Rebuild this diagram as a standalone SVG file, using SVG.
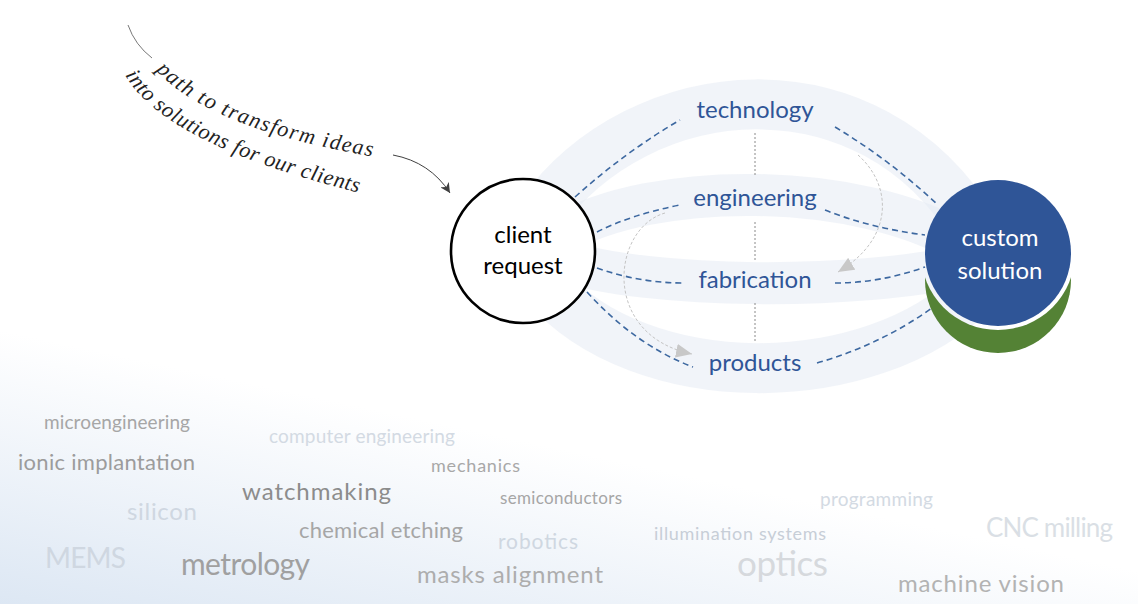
<svg xmlns="http://www.w3.org/2000/svg" width="1138" height="604" viewBox="0 0 1138 604">
<defs>
  <linearGradient id="bg" gradientUnits="userSpaceOnUse" x1="0" y1="330" x2="-58" y2="604">
    <stop offset="0" stop-color="#dbe6f3" stop-opacity="0"/>
    <stop offset="1" stop-color="#dbe6f3" stop-opacity="1"/>
  </linearGradient>
  <marker id="grayArrow" markerUnits="userSpaceOnUse" markerWidth="20" markerHeight="14" refX="16" refY="7" orient="auto">
    <path d="M0,0 L16,7 L0,14 Z" fill="#c8c8c8"/>
  </marker>
  <marker id="darkArrow" markerUnits="userSpaceOnUse" markerWidth="12" markerHeight="10" refX="10" refY="5" orient="auto">
    <path d="M0,0 L10,5 L0,10 L3,5 Z" fill="#404040"/>
  </marker>
  <mask id="crescent">
    <rect x="0" y="0" width="1138" height="604" fill="#fff"/>
    <circle cx="998" cy="253" r="77" fill="#000"/>
  </mask>
</defs>
<style>
  .band { fill: none; stroke: #e3eaf3; stroke-opacity: 0.5; stroke-linecap: round; }
  .conn { fill: none; stroke: #3d68a0; stroke-width: 1.6; stroke-dasharray: 6 4; }
  .vdot { fill: none; stroke: #8a8a8a; stroke-width: 1; stroke-dasharray: 2 2; }
  .garc { fill: none; stroke: #c4c4c4; stroke-width: 1; stroke-dasharray: 3 2; }
  .lbl { font-family: Lato, "Open Sans", sans-serif; font-size: 24px; fill: #2f5597; text-anchor: middle; }
  .cl { font-family: Lato, "Open Sans", sans-serif; font-size: 24px; fill: #000; text-anchor: middle; }
  .cs { font-family: Lato, "Open Sans", sans-serif; font-size: 24px; fill: #fff; text-anchor: middle; }
  .hand { font-family: "Liberation Serif", serif; font-style: italic; font-size: 22px; fill: #222; }
  .w { font-family: Lato, "Open Sans", sans-serif; }
</style>
<rect x="0" y="0" width="1138" height="604" fill="#ffffff"/>
<rect x="0" y="0" width="1138" height="604" fill="url(#bg)"/>

<g id="bands">
  <path class="band" stroke-width="50" d="M540,215 C640,75 870,55 975,230"/>
  <path class="band" stroke-width="42" d="M560,235 C650,180 860,180 965,245"/>
  <path class="band" stroke-width="42" d="M560,260 C650,290 860,290 965,265"/>
  <path class="band" stroke-width="50" d="M545,285 C640,395 870,395 975,290"/>
</g>

<g id="word-cloud">
  <text class="w" x="44" y="429" font-size="19" fill="#a6a6a6" textLength="146">microengineering</text>
  <text class="w" x="18" y="470" font-size="22" fill="#9c9c9c" textLength="177">ionic implantation</text>
  <text class="w" x="269" y="443" font-size="19" fill="#d3dae3" textLength="186">computer engineering</text>
  <text class="w" x="431" y="472" font-size="18" fill="#a8a8a8" textLength="89">mechanics</text>
  <text class="w" x="242" y="500" font-size="24" fill="#8c8c8c" textLength="149">watchmaking</text>
  <text class="w" x="500" y="504" font-size="17" fill="#a6a6a6" textLength="122">semiconductors</text>
  <text class="w" x="127" y="520" font-size="24" fill="#cfd7e1" textLength="70">silicon</text>
  <text class="w" x="299" y="538" font-size="22" fill="#a6a6a6" textLength="164">chemical etching</text>
  <text class="w" x="498" y="549" font-size="21" fill="#cfd7e1" textLength="80">robotics</text>
  <text class="w" x="45" y="568" font-size="28" fill="#cfd7e1" textLength="81">MEMS</text>
  <text class="w" x="181" y="575" font-size="30" fill="#a0a0a0" textLength="129">metrology</text>
  <text class="w" x="417" y="583" font-size="24" fill="#adadad" textLength="186">masks alignment</text>
  <text class="w" x="820" y="506" font-size="19" fill="#d3dae3" textLength="113">programming</text>
  <text class="w" x="654" y="540" font-size="18" fill="#c7ced7" textLength="172">illumination systems</text>
  <text class="w" x="737" y="576" font-size="35" fill="#d6d9dd" textLength="91">optics</text>
  <text class="w" x="986" y="537" font-size="26" fill="#dadfe5" textLength="127">CNC milling</text>
  <text class="w" x="898" y="592" font-size="24" fill="#b3b3b3" textLength="166">machine vision</text>
</g>

<g id="connectors">
  <path class="conn" d="M575,197 Q625,152 680,120"/>
  <path class="conn" d="M835,127 Q890,160 938,205"/>
  <path class="conn" d="M597,232 Q630,215 680,205"/>
  <path class="conn" d="M825,210 Q870,228 925,235"/>
  <path class="conn" d="M597,268 Q640,283 683,283"/>
  <path class="conn" d="M835,283 Q880,283 925,267"/>
  <path class="conn" d="M587,292 Q635,345 693,367"/>
  <path class="conn" d="M817,363 Q880,345 932,308"/>
  <path class="vdot" d="M755,133 V177"/>
  <path class="vdot" d="M755,222 V260"/>
  <path class="vdot" d="M755,303 V342"/>
  <path class="garc" d="M858,155 C892,185 895,238 838,272" marker-end="url(#grayArrow)"/>
  <path class="garc" d="M665,213 C612,228 600,335 692,354" marker-end="url(#grayArrow)"/>
  <path d="M393,155 Q430,162 450,193" fill="none" stroke="#404040" stroke-width="1" marker-end="url(#darkArrow)"/>
  <path d="M128,25 Q135,45 152,58" fill="none" stroke="#555" stroke-width="0.8"/>
</g>

<g id="caption">
  <path id="hp1" d="M156,70 Q210,130 382,158" fill="none"/>
  <path id="hp2" d="M125,75 Q168,150 390,200" fill="none"/>
  <text class="hand" letter-spacing="1.4"><textPath href="#hp1">path to transform ideas</textPath></text>
  <text class="hand" letter-spacing="0.6"><textPath href="#hp2">into solutions for our clients</textPath></text>
</g>

<g id="client-request">
  <circle cx="523" cy="251" r="72" fill="#fff" stroke="#000" stroke-width="2.6"/>
  <text class="cl" x="523" y="243">client</text>
  <text class="cl" x="523" y="274">request</text>
</g>

<g id="technology"><text class="lbl" x="755" y="118">technology</text></g>
<g id="engineering"><text class="lbl" x="755" y="206">engineering</text></g>
<g id="fabrication"><text class="lbl" x="755" y="288">fabrication</text></g>
<g id="products"><text class="lbl" x="755" y="371">products</text></g>

<g id="custom-solution">
  <circle cx="998" cy="280" r="73" fill="#548235" mask="url(#crescent)"/>
  <circle cx="998" cy="253" r="73" fill="#2f5597"/>
  <text class="cs" x="1000" y="246">custom</text>
  <text class="cs" x="1000" y="279">solution</text>
</g>
</svg>
